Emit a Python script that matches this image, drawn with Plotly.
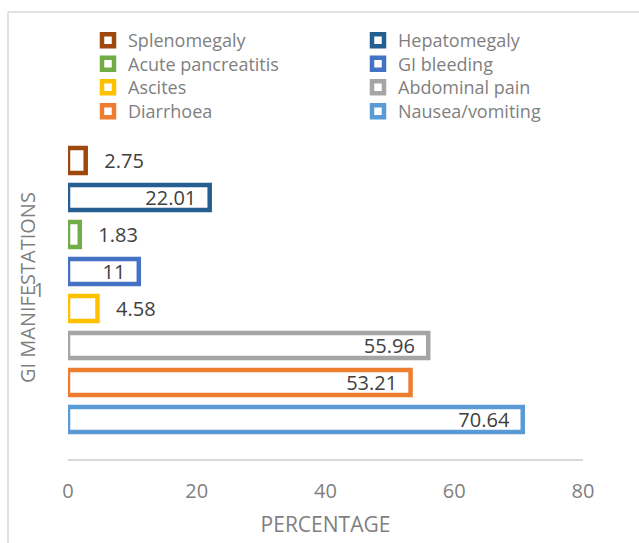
import plotly.graph_objects as go

# GI manifestations (percentage of patients), one category, one series each
categories = ["1"]
series_names = [
    "Splenomegaly", "Hepatomegaly", "Acute pancreatitis", "GI bleeding",
    "Ascites", "Abdominal pain", "Diarrhoea", "Nausea/vomiting",
]
series_values = [2.75, 22.01, 1.83, 11, 4.58, 55.96, 53.21, 70.64]
series_colors = [
    "#9E480E", "#255E91", "#70AD47", "#4472C4",
    "#FFC000", "#A5A5A5", "#ED7D31", "#5B9BD5",
]
x_ticks = [0, 20, 40, 60, 80]

FONT = "Open Sans"
NBSP = "\u00a0"

W, H = 639, 543
ML, MR, MT, MB = 68, 56, 121, 84
PW, PH = W - ML - MR, H - MT - MB

# legend grid: two columns, four rows (pixel anchors in the page)
LEG_COL_X = [88, 358]
LEG_ROW_Y = [40, 63.5, 87, 111]

fig = go.Figure()
legends = {}
for i, (name, val, col) in enumerate(zip(series_names, series_values, series_colors)):
    inside = val >= 8
    leg_id = "legend" if i == 0 else f"legend{i + 1}"
    fig.add_trace(go.Bar(
        name=name,
        y=categories,
        x=[val],
        orientation="h",
        marker=dict(color="white", line=dict(color=col, width=4.5)),
        texttemplate=("%{x}" + NBSP * 2) if inside else (NBSP * 3 + "%{x}"),
        textposition="inside" if inside else "outside",
        insidetextanchor="end",
        textfont=dict(family=FONT, size=20, color="#404040"),
        constraintext="none",
        cliponaxis=False,
        hoverinfo="skip",
        legend=leg_id,
    ))
    row, column = divmod(i, 2)
    legends[leg_id] = dict(
        xref="container", yref="container",
        x=LEG_COL_X[column] / W, y=1 - (LEG_ROW_Y[row] - 18) / H,
        xanchor="left", yanchor="top",
        font=dict(family=FONT, size=18, color="#7f7f7f"),
        bgcolor="rgba(0,0,0,0)", borderwidth=0,
        itemclick=False, itemdoubleclick=False,
    )

# chart-area frame (left and top edges)
def px_x(p):
    return (p - ML) / PW

def px_y(p):
    return (H - MB - p) / PH

frame = dict(color="#d9d9d9", width=1.5)
fig.add_shape(type="line", xref="paper", yref="paper",
              x0=px_x(8), x1=px_x(8), y0=px_y(12), y1=px_y(H), line=frame)
fig.add_shape(type="line", xref="paper", yref="paper",
              x0=px_x(8), x1=px_x(W), y0=px_y(12), y1=px_y(12), line=frame)

# vertical axis title
fig.add_annotation(
    text="GI MANIFESTATIONS", textangle=-90, showarrow=False,
    xref="paper", yref="paper", x=px_x(27), y=px_y(288),
    xanchor="center", yanchor="middle",
    font=dict(family=FONT, size=20, color="#7f7f7f"),
)

fig.update_layout(
    width=W, height=H,
    margin=dict(l=ML, r=MR, t=MT, b=MB, pad=0, autoexpand=False),
    paper_bgcolor="white", plot_bgcolor="white",
    barmode="group", bargap=0.124, bargroupgap=0.324,
    showlegend=True,
    xaxis=dict(
        range=[0, 80], tickvals=x_ticks, showgrid=False, zeroline=False,
        showline=True, linecolor="#d9d9d9", linewidth=1.5,
        ticks="", ticklabelstandoff=13,
        tickfont=dict(family=FONT, size=20, color="#7f7f7f"),
        title=dict(text="PERCENTAGE", standoff=15,
                   font=dict(family=FONT, size=21, color="#7f7f7f")),
        fixedrange=True,
    ),
    yaxis=dict(
        type="category", range=[0.5, -0.5], showgrid=False, zeroline=False,
        showline=False, ticks="", ticklabelstandoff=22,
        tickfont=dict(family=FONT, size=20, color="#7f7f7f"),
        fixedrange=True,
    ),
    **legends,
)

fig.write_html("out.html", config={"displayModeBar": False})
